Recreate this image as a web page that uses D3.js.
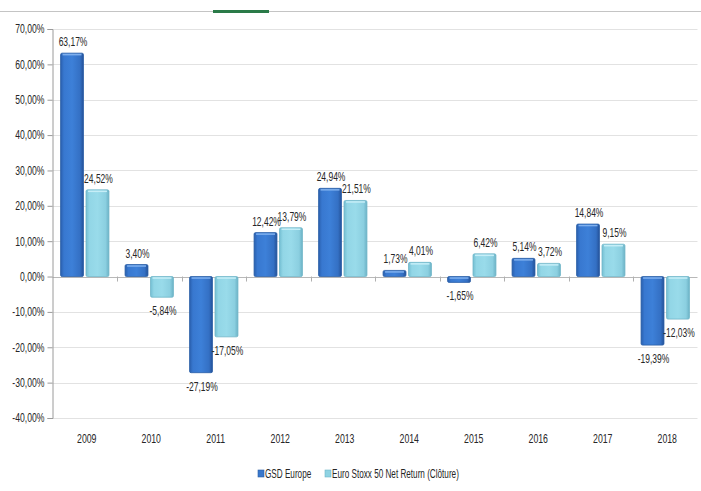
<!DOCTYPE html>
<html>
<head>
<meta charset="utf-8">
<script src="https://cdn.jsdelivr.net/npm/d3@7"></script>
<style>
  html, body { margin: 0; padding: 0; background: #fff; }
  svg { display: block; }
  text { font-family: "Liberation Sans", Arial, sans-serif; fill: #262626; }
</style>
</head>
<body>
<svg id="chart" width="701" height="491"></svg>
<script>
const years = ["2009","2010","2011","2012","2013","2014","2015","2016","2017","2018"];
const gsdEurope = [63.17, 3.40, -27.19, 12.42, 24.94, 1.73, -1.65, 5.14, 14.84, -19.39];
const euroStoxx = [24.52, -5.84, -17.05, 13.79, 21.51, 4.01, 6.42, 3.72, 9.15, -12.03];
const seriesNames = ["GSD Europe", "Euro Stoxx 50 Net Return (Clôture)"];
const yTicks = [70, 60, 50, 40, 30, 20, 10, 0, -10, -20, -30, -40];

const svg = d3.select("#chart");
const mLeft = 52.5, mRight = 697.5, mTop = 29, mBottom = 418;

const fmt = v => v.toFixed(2).replace(".", ",") + "%";

// condensed text helper: move x,y into a transform with horizontal scale
function condense(sel, sx) {
  sel.each(function () {
    const t = d3.select(this);
    const tx = +t.attr("x") || 0, ty = +t.attr("y") || 0;
    t.attr("x", 0).attr("y", 0).attr("transform", `translate(${tx},${ty}) scale(${sx},1)`);
  });
}

const x = d3.scaleBand().domain(years).range([mLeft, mRight]).paddingInner(0.25).paddingOuter(0.125);
const xOuter = d3.scaleBand().domain(years).range([mLeft, mRight]);
const xInner = d3.scaleBand().domain([0, 1]).range([0, x.bandwidth()]).paddingInner(0.1);
const y = d3.scaleLinear().domain([-40, 70]).range([mBottom, mTop]);

// gradients
const defs = svg.append("defs");
function grad(id, stops) {
  const g = defs.append("linearGradient").attr("id", id).attr("x1", "0").attr("x2", "1").attr("y1", "0").attr("y2", "0");
  stops.forEach(s => g.append("stop").attr("offset", s[0]).attr("stop-color", s[1]));
}
grad("gDark", [[0, "#2a60ae"], [0.15, "#3878d0"], [0.5, "#3d80d8"], [0.85, "#3470c4"], [1, "#245298"]]);
grad("gLight", [[0, "#74bfd2"], [0.15, "#92d6e6"], [0.5, "#99dbea"], [0.85, "#8bcfe0"], [1, "#6cb2c6"]]);
const colors = ["url(#gDark)", "url(#gLight)"];
const legendColors = ["#3a78cc", "#8fd3e3"];

// top decoration line
svg.append("line").attr("x1", 0).attr("x2", 701).attr("y1", 11.5).attr("y2", 11.5).attr("stroke", "#c4c4c4").attr("stroke-width", 1.2);
svg.append("rect").attr("x", 213).attr("y", 10).attr("width", 56).attr("height", 3).attr("fill", "#2a7a48");

// gridlines
svg.append("g").selectAll("line").data(yTicks).join("line")
  .attr("x1", mLeft).attr("x2", mRight)
  .attr("y1", d => Math.round(y(d)) + 0.5).attr("y2", d => Math.round(y(d)) + 0.5)
  .attr("stroke", d => d === 0 ? "#b8b8b8" : "#e2e2e2").attr("stroke-width", 1);

// y axis
const yAxis = d3.axisLeft(y).tickValues(yTicks).tickSize(5).tickPadding(3).tickFormat(fmt);
const gy = svg.append("g").attr("transform", `translate(${mLeft},0)`).call(yAxis);
gy.select(".domain").attr("stroke", "#9a9a9a");
gy.selectAll(".tick line").attr("stroke", "#9a9a9a");
gy.selectAll(".tick text").attr("font-size", 12).attr("fill", "#262626")
  .style("font-family", '"Liberation Sans", Arial, sans-serif')
  .each(function () {
    const t = d3.select(this);
    const tx = +t.attr("x") || 0;
    t.attr("x", 0).attr("transform", `translate(${tx},0) scale(0.72,1)`);
  });

// category ticks on zero line
svg.append("g").selectAll("line").data(years.slice(1)).join("line")
  .attr("x1", d => Math.round(xOuter(d)) + 0.5).attr("x2", d => Math.round(xOuter(d)) + 0.5)
  .attr("y1", y(0)).attr("y2", y(0) + 5).attr("stroke", "#b0b0b0");

// x labels
svg.append("g").selectAll("text").data(years).join("text")
  .attr("x", d => xOuter(d) + xOuter.bandwidth() / 2 + 2).attr("y", 443)
  .attr("text-anchor", "middle").attr("font-size", 12.5).text(d => d)
  .call(condense, 0.7);

// bars
const series = [gsdEurope, euroStoxx];
series.forEach((vals, si) => {
  const g = svg.append("g");
  const data = years.map((yr, i) => ({ yr, v: vals[i] }));
  g.selectAll("rect").data(data).join("rect")
    .attr("x", d => x(d.yr) + xInner(si))
    .attr("width", xInner.bandwidth())
    .attr("y", d => y(Math.max(0, d.v)))
    .attr("height", d => Math.abs(y(d.v) - y(0)))
    .attr("fill", colors[si])
    .attr("stroke", si === 0 ? "#2a5ea6" : "#6fb5c8").attr("stroke-width", 0.8)
    .attr("rx", 1.5);
  g.selectAll("line.hl").data(data).join("line").attr("class", "hl")
    .attr("x1", d => x(d.yr) + xInner(si) + 2)
    .attr("x2", d => x(d.yr) + xInner(si) + xInner.bandwidth() - 2)
    .attr("y1", d => d.v >= 0 ? y(d.v) + 1.5 : y(0) + 1.5)
    .attr("y2", d => d.v >= 0 ? y(d.v) + 1.5 : y(0) + 1.5)
    .attr("stroke", si === 0 ? "#7fb0ee" : "#c6eef7").attr("stroke-width", 1.5);
  g.selectAll("text").data(data).join("text")
    .attr("x", d => x(d.yr) + xInner(si) + xInner.bandwidth() / 2 + 1)
    .attr("y", d => d.v >= 0 ? y(d.v) - 7 : y(d.v) + 18)
    .attr("text-anchor", "middle").attr("font-size", 12.5)
    .text(d => fmt(d.v))
    .call(condense, 0.68);
});

// legend
const legend = svg.append("g");
const legendX = [258, 325];
seriesNames.forEach((n, i) => {
  legend.append("rect").attr("x", legendX[i]).attr("y", 470).attr("width", 6).attr("height", 7)
    .attr("fill", legendColors[i]).attr("stroke", i === 0 ? "#2a5ea6" : "#6fb5c8").attr("stroke-width", 0.6);
  legend.append("text").attr("x", legendX[i] + 7).attr("y", 478).attr("font-size", 12).text(n)
    .call(condense, 0.68);
});
</script>
</body>
</html>
